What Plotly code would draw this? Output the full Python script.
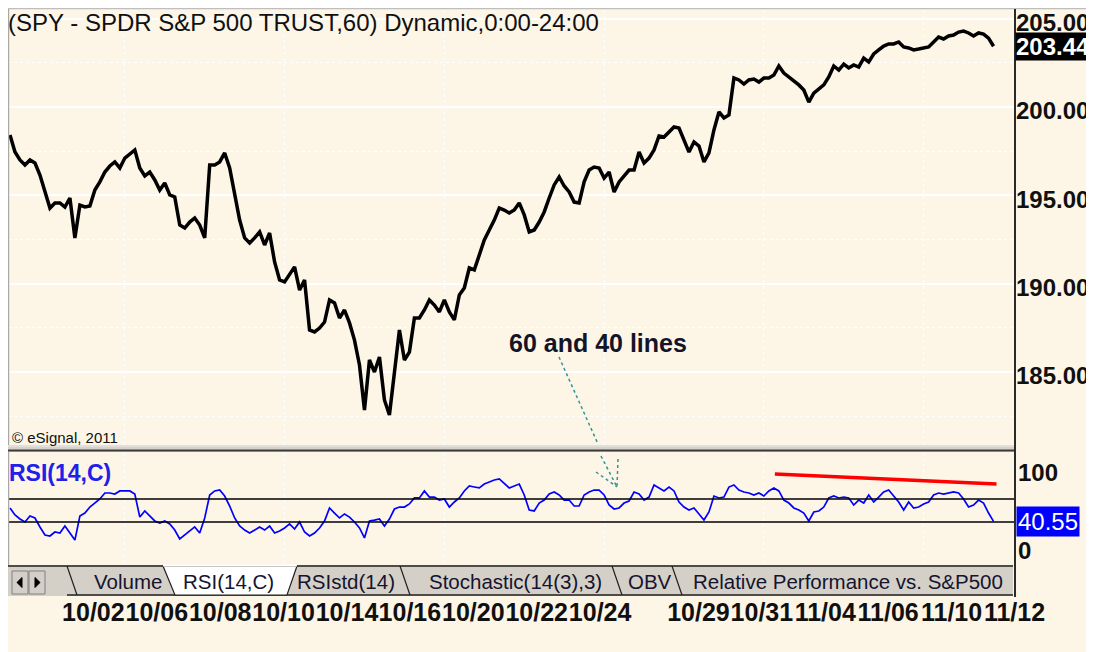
import plotly.graph_objects as go

# the page body adds an 8px white margin on the top and left
W, H = 1086, 644
ML, MR, MT, MB = 0, 79, 2, 89
PW = W - ML - MR
PH = H - MT - MB
FONT = "Liberation Sans, Arial, sans-serif"
CREAM = "#FDF5E6"


# page pixel -> paper coords (plot area spans page x 8..1015, y 10..563)
def px(x):
    return (x - 8) / PW


def py(y):
    return (563 - y) / PH


# hourly SPY closes
price = [
    198.42, 197.45, 197.00, 196.72, 197.00, 196.83, 196.15, 195.19, 194.28, 194.57,
    194.57, 194.34, 194.85, 192.59, 194.45, 194.34, 194.40, 195.30, 195.76, 196.32,
    196.66, 196.89, 196.55, 197.11, 197.34, 197.57, 196.55, 196.10, 196.32, 195.87,
    195.30, 195.70, 195.02, 194.91, 193.32, 193.15, 193.49, 193.72, 193.32, 192.59,
    196.72, 196.72, 196.89, 197.40, 196.55, 195.02, 193.60, 192.59, 192.30, 192.59,
    192.93, 192.19, 192.87, 191.23, 190.21, 190.10, 190.49, 190.95, 189.64, 190.21,
    187.38, 187.27, 187.49, 187.83, 189.08, 188.91, 188.06, 188.51, 187.78, 186.81,
    185.40, 182.85, 185.68, 185.00, 185.85, 183.42, 182.57, 185.12, 187.38, 185.68,
    186.13, 188.06, 188.06, 188.51, 189.08, 188.79, 188.40, 189.08, 188.40, 187.95,
    189.36, 189.76, 190.89, 190.78, 191.57, 192.47, 193.04, 193.60, 194.28, 194.17,
    194.00, 194.17, 194.57, 193.89, 192.93, 193.04, 193.49, 194.06, 194.85, 195.59,
    196.04, 195.53, 195.19, 194.62, 194.57, 195.76, 196.43, 196.60, 196.55, 195.98,
    196.32, 195.19, 195.76, 196.10, 196.43, 196.43, 197.45, 196.83, 197.11, 197.57,
    198.36, 198.30, 198.59, 198.87, 198.81, 198.13, 197.45, 198.02, 197.79, 196.89,
    197.40, 198.70, 199.72, 199.38, 199.55, 201.64, 201.53, 201.30, 201.53, 201.58,
    201.41, 201.64, 201.64, 201.81, 202.32, 201.92, 201.70, 201.53, 201.25, 200.96,
    200.28, 200.79, 201.02, 201.25, 201.70, 202.32, 202.09, 202.43, 202.21, 202.38,
    202.26, 202.77, 202.55, 203.00, 203.23, 203.45, 203.57, 203.57, 203.68, 203.40,
    203.34, 203.23, 203.28, 203.34, 203.40, 203.68, 203.96, 203.85, 204.02, 204.07,
    204.24, 204.30, 204.19, 204.02, 204.19, 204.13, 203.90, 203.44,
]

rsi = [
    52.2, 46.1, 42.6, 40.0, 45.2, 43.5, 35.7, 28.7, 27.8, 31.3,
    30.4, 36.5, 30.4, 24.3, 45.2, 47.8, 53.0, 56.5, 60.0, 65.2,
    65.2, 64.3, 67.0, 67.0, 67.0, 64.3, 44.3, 49.6, 45.2, 40.9,
    39.1, 40.9, 38.3, 33.0, 25.2, 28.7, 32.2, 35.7, 30.4, 43.5,
    63.5, 67.0, 67.8, 62.6, 53.9, 43.5, 36.5, 33.0, 30.4, 33.0,
    35.7, 33.0, 36.5, 30.4, 32.2, 34.8, 38.3, 33.9, 40.0, 31.3,
    27.8, 30.4, 34.8, 40.9, 52.2, 47.8, 43.5, 47.0, 44.3, 40.0,
    34.8, 26.1, 40.9, 41.7, 42.6, 36.5, 42.6, 51.3, 53.0, 53.0,
    55.7, 60.9, 60.9, 67.0, 61.7, 61.7, 59.1, 60.0, 53.0, 57.4,
    60.9, 67.0, 71.3, 70.4, 69.6, 73.0, 74.8, 76.5, 77.4, 73.9,
    69.6, 71.3, 73.0, 63.5, 50.4, 49.6, 56.5, 59.1, 64.3, 66.1,
    63.5, 59.1, 59.1, 53.9, 53.9, 63.5, 66.1, 67.8, 67.8, 63.5,
    54.8, 51.3, 52.2, 56.5, 58.3, 66.1, 64.3, 59.1, 61.7, 72.2,
    69.6, 67.0, 70.4, 67.0, 57.4, 53.0, 50.4, 52.2, 47.0, 41.7,
    48.7, 62.6, 60.9, 61.7, 70.4, 72.2, 67.8, 66.1, 65.2, 63.5,
    65.2, 62.6, 67.0, 69.6, 67.0, 59.1, 56.5, 52.2, 50.4, 47.8,
    40.9, 48.7, 49.6, 53.0, 60.9, 62.6, 60.9, 61.7, 60.9, 54.8,
    59.1, 56.5, 63.5, 57.4, 61.7, 66.1, 67.8, 62.6, 57.4, 50.4,
    57.4, 52.2, 53.0, 55.7, 57.4, 63.5, 65.2, 64.3, 65.2, 66.1,
    65.2, 60.0, 53.0, 54.8, 59.1, 56.5, 47.8, 40.55,
]

bars = list(range(len(price)))

# divergence trend line drawn on the RSI pane
trend_bars = [153.2, 197.6]
trend_rsi = [81.7, 73.0]

rsi_levels = [60, 40]

date_labels = ["10/02", "10/06", "10/08", "10/10", "10/14", "10/16", "10/20", "10/22",
               "10/24", "10/29", "10/31", "11/04", "11/06", "11/10", "11/12"]
date_bars = [16.7, 29.4, 42.1, 54.8, 67.5, 80.1, 92.8, 105.5, 118.2,
             137.9, 150.6, 163.3, 175.9, 188.6, 201.2]
week_bars = [23, 55, 87, 119, 151, 183]

price_ticks = [185, 190, 195, 200, 205]
price_minor = [182.5, 187.5, 192.5, 197.5, 202.5]
last_price = price[-1]
last_rsi = rsi[-1]

tab_names = ["Volume", "RSI(14,C)", "RSIstd(14)", "Stochastic(14(3),3)", "OBV"]
tab_centers = [128, 228, 346, 515, 650]

xr = [-0.4, 201.3]

fig = go.Figure()
fig.add_trace(go.Scatter(x=bars, y=price, mode="lines", xaxis="x", yaxis="y",
                         line=dict(color="black", width=3.5), showlegend=False))
fig.add_trace(go.Scatter(x=bars, y=rsi, mode="lines", xaxis="x2", yaxis="y2",
                         line=dict(color="#0000FF", width=1.7), showlegend=False))
fig.add_trace(go.Scatter(x=trend_bars, y=trend_rsi, mode="lines", xaxis="x2", yaxis="y2",
                         line=dict(color="#FF0000", width=3.5), showlegend=False))

week_grid = dict(tickmode="array", tickvals=week_bars, showgrid=True,
                 gridcolor="white", griddash="dot", gridwidth=1, ticks="")

fig.update_layout(
    width=W, height=H,
    margin=dict(l=ML, r=MR, t=MT, b=MB),
    paper_bgcolor=CREAM, plot_bgcolor=CREAM,
    showlegend=False,
    xaxis=dict(domain=[0, 1], anchor="y", range=xr, showticklabels=False, automargin=False,
               showgrid=False, zeroline=False, ticks="", minor=week_grid),
    yaxis=dict(domain=[py(448), 1], anchor="x", side="right", range=[180.7, 205.49],
               tickvals=price_ticks, ticktext=["%.2f" % v for v in price_ticks],
               tickfont=dict(family=FONT, size=24, color="#101010", weight="bold"),
               ticklabelstandoff=0, ticklabelshift=4, ticklabeloverflow="allow",
               automargin=False,
               ticks="", showgrid=True, gridcolor="white", gridwidth=2, zeroline=False,
               minor=dict(tickmode="array", tickvals=price_minor, showgrid=True,
                          gridcolor="white", griddash="dot", gridwidth=1, ticks="")),
    xaxis2=dict(domain=[0, 1], anchor="y2", range=xr, tickvals=date_bars, automargin=False,
                ticktext=date_labels, ticks="", tickangle=0, ticklabelstandoff=32,
                ticklabeloverflow="allow",
                tickfont=dict(family=FONT, size=25, color="#101010", weight="bold"),
                showgrid=False, zeroline=False, minor=week_grid),
    yaxis2=dict(domain=[0, py(452)], anchor="x2", side="right", range=[4.35, 100.87],
                automargin=False,
                showticklabels=False, showgrid=False, zeroline=False, ticks=""),
)

shapes = []
for lv in rsi_levels:
    shapes.append(dict(type="line", xref="x2 domain", x0=0, x1=1, yref="y2", y0=lv, y1=lv,
                       line=dict(color="black", width=1.5)))


def seg(x0, y0, x1, y1, color, width, dash="solid"):
    return dict(type="line", xref="paper", yref="paper", x0=px(x0), y0=py(y0),
                x1=px(x1), y1=py(y1), line=dict(color=color, width=width, dash=dash))


def box(x0, y0, x1, y1, fill, color=None, width=0):
    return dict(type="rect", xref="paper", yref="paper", x0=px(x0), y0=py(y1),
                x1=px(x1), y1=py(y0), fillcolor=fill,
                line=dict(color=color or fill, width=width))


def poly(points, fill, color, width=1):
    path = "M " + " L ".join("%f,%f" % (px(a), py(b)) for a, b in points) + " Z"
    return dict(type="path", xref="paper", yref="paper", path=path, fillcolor=fill,
                line=dict(color=color, width=width))


# window chrome
shapes += [
    seg(8, 8.6, 1094, 8.6, "#BEBEBE", 1.2),
    seg(8.6, 9, 8.6, 565, "#A8A8A8", 1.2),
    # pane separator
    box(8, 445, 1015, 452, "#D6D2CA"),
    seg(8, 446, 1015, 446, "#EDEDED", 1),
    seg(8, 450.5, 1015, 450.5, "#3C3C3C", 2),
    # right scale border
    seg(1015, 9, 1015, 597, "#2A2A2A", 2),
    # tab strip
    box(8, 565, 1013, 596, "#D4D0C8"),
    seg(8, 566, 163, 566, "#202020", 1.5),
    seg(297, 566, 1013, 566, "#202020", 1.5),
    seg(67, 595, 1013, 595, "#202020", 1.5),
    poly([(163, 566), (297, 566), (287, 595), (175, 595)], "white", "#202020", 1.2),
    seg(163, 565.5, 297, 565.5, "white", 2),
    seg(67, 566, 77, 595, "#202020", 1.2),
    seg(400, 566, 410, 595, "#202020", 1.2),
    seg(612, 566, 622, 595, "#202020", 1.2),
    seg(672, 566, 682, 595, "#202020", 1.2),
    box(12, 571, 28, 594, "#D4D0C8", "#808080", 1),
    box(29, 571, 45, 594, "#D4D0C8", "#808080", 1),
    poly([(17, 582.5), (22, 577.5), (22, 587.5)], "black", "black"),
    poly([(35, 577.5), (40, 582.5), (35, 587.5)], "black", "black"),
    # callout arrow
    seg(559, 357, 598, 444, "#2E9696", 1.5, "dot"),
    seg(601, 456, 617, 487, "#2E9696", 1.5, "dot"),
    seg(596, 472, 617, 487, "#2E9696", 1.5, "dot"),
    seg(618, 459, 617, 487, "#2E9696", 1.5, "dot"),
]
fig.update_layout(shapes=shapes)

ann = [
    dict(x=px(6), y=py(23), text="(SPY - SPDR S&P 500 TRUST,60) Dynamic,0:00-24:00",
         xanchor="left", yanchor="middle", font=dict(family=FONT, size=24, color="#101010")),
    dict(x=px(10), y=py(437), text="© eSignal, 2011", xanchor="left", yanchor="middle",
         font=dict(family=FONT, size=15, color="#101010")),
    dict(x=px(7), y=py(473), text="RSI(14,C)", xanchor="left", yanchor="middle",
         font=dict(family=FONT, size=23, color="#2020E8", weight="bold")),
    dict(x=px(598), y=py(343), text="60 and 40 lines", xanchor="center", yanchor="middle",
         font=dict(family=FONT, size=25, color="#141428", weight="bold")),
    dict(x=px(1016), y=py(472), text="100", xanchor="left", yanchor="middle",
         font=dict(family=FONT, size=24, color="#101010", weight="bold")),
    dict(x=px(1016), y=py(550), text="0", xanchor="left", yanchor="middle",
         font=dict(family=FONT, size=24, color="#101010", weight="bold")),
    dict(xref="paper", yref="y", x=1, y=last_price, xshift=0, text="%.2f" % last_price,
         xanchor="left", yanchor="middle", bgcolor="black", borderpad=0,
         font=dict(family=FONT, size=24, color="white", weight="bold")),
    dict(xref="paper", yref="y2", x=1, y=last_rsi, xshift=1, text="%.2f" % last_rsi,
         xanchor="left", yanchor="middle", bgcolor="#0000FF", borderpad=1,
         font=dict(family=FONT, size=24, color="white")),
    dict(x=px(691), y=py(581), text="Relative Performance vs. S&P500", xanchor="left",
         yanchor="middle", font=dict(family=FONT, size=20.5, color="#141430")),
]
for name, cx in zip(tab_names, tab_centers):
    ann.append(dict(x=px(cx), y=py(581), text=name, xanchor="center", yanchor="middle",
                    font=dict(family=FONT, size=20.5, color="#141430")))
for a in ann:
    a.setdefault("xref", "paper")
    a.setdefault("yref", "paper")
    a["showarrow"] = False
fig.update_layout(annotations=ann)

fig.write_html("out.html")
